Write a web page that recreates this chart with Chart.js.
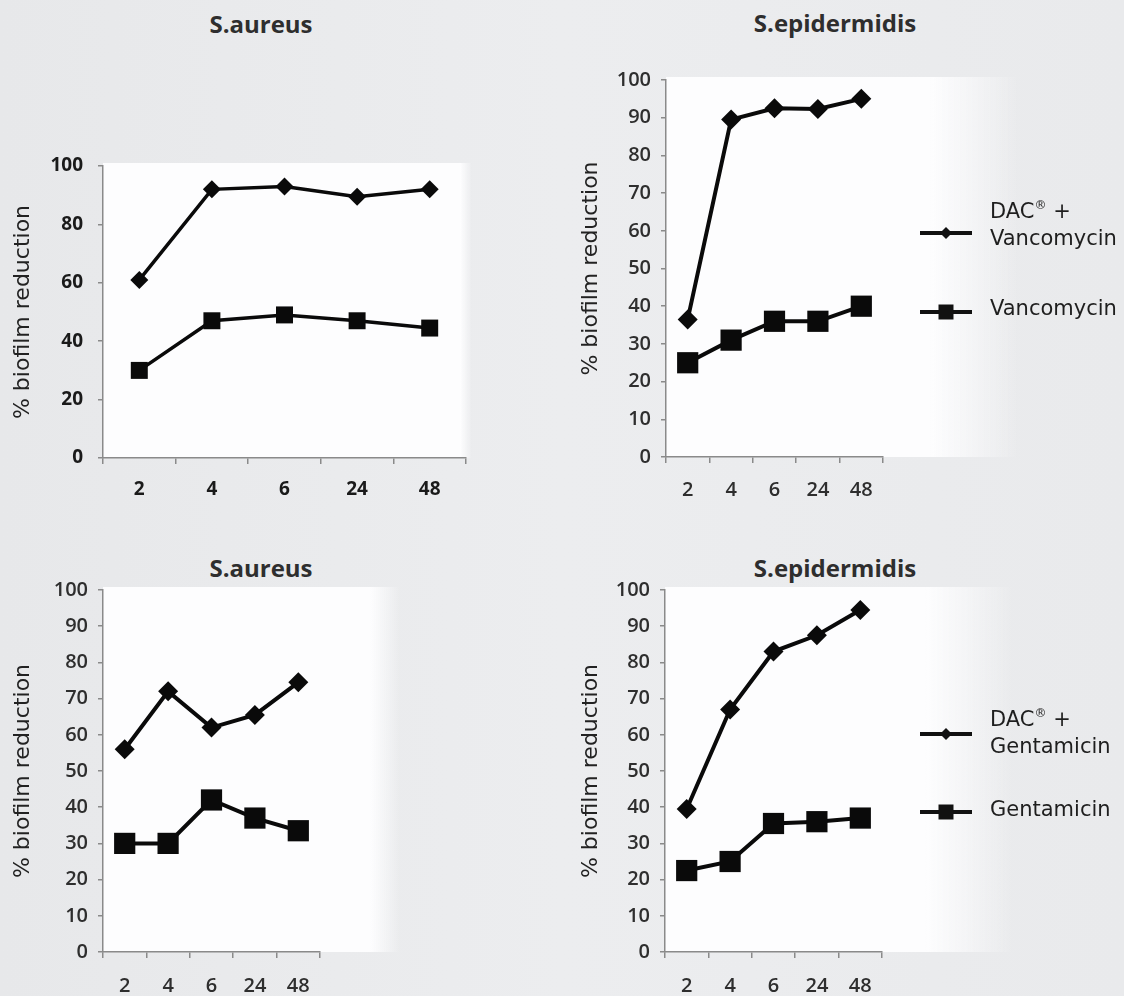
<!DOCTYPE html>
<html>
<head>
<meta charset="utf-8">
<script src="https://cdn.jsdelivr.net/npm/chart.js@4.4.1/dist/chart.umd.min.js"></script>
<style>
  html,body{margin:0;padding:0;}
  body{width:1124px;height:996px;position:relative;overflow:hidden;
       background:linear-gradient(90deg,#e7e8ea 0%,#ecedef 50%,#e9eaec 100%);}
  canvas{position:absolute;}
  .ttl{position:absolute;transform:translate(-50%,-50%);font-family:"Open Sans",sans-serif;
       font-weight:700;font-size:24px;color:#2e2e2e;white-space:nowrap;}
</style>
</head>
<body>
<div class="ttl" style="left:261px;top:23px">S.aureus</div>
<div class="ttl" style="left:835px;top:22px">S.epidermidis</div>
<div class="ttl" style="left:261px;top:567px">S.aureus</div>
<div class="ttl" style="left:835px;top:567px">S.epidermidis</div>

<canvas id="c1" width="560" height="500" style="left:0;top:0"></canvas>
<canvas id="c2" width="564" height="500" style="left:560px;top:0"></canvas>
<canvas id="c3" width="560" height="496" style="left:0;top:500px"></canvas>
<canvas id="c4" width="564" height="496" style="left:560px;top:500px"></canvas>

<script>
// ---- data ----
const categories = ['2', '4', '6', '24', '48'];
const yAxisTitle = '% biofilm reduction';

const saVancDac = [61, 92, 93, 89.5, 92];
const saVanc    = [30, 47, 49, 47, 44.5];
const seVancDac = [36.5, 89.5, 92.5, 92.3, 95];
const seVanc    = [25, 31, 36, 36, 40];

const saGentDac = [56, 72, 62, 65.5, 74.5];
const saGent    = [30, 30, 42, 37, 33.5];
const seGentDac = [39.5, 67, 83, 87.5, 94.5];
const seGent    = [22.5, 25, 35.5, 36, 37];

const vancLabels = [['DAC® +', 'Vancomycin'], ['Vancomycin']];
const gentLabels = [['DAC® +', 'Gentamicin'], ['Gentamicin']];

// ---- plugins ----
const whiteBg = {
  id: 'whiteBg',
  beforeDraw(chart, args, opts) {
    const {ctx, chartArea: a} = chart;
    const end = opts.right;
    const fade = opts.fade || 40;
    ctx.save();
    const g = ctx.createLinearGradient(end - fade, 0, end, 0);
    g.addColorStop(0, 'rgba(253,253,254,1)');
    g.addColorStop(1, 'rgba(253,253,254,0)');
    ctx.fillStyle = '#fdfdfe';
    ctx.fillRect(a.left, opts.top, end - fade - a.left, a.bottom - opts.top);
    ctx.fillStyle = g;
    ctx.fillRect(end - fade, opts.top, fade, a.bottom - opts.top);
    ctx.restore();
  }
};

const sideLegend = {
  id: 'sideLegend',
  afterDraw(chart, args, opts) {
    if (!opts || !opts.items) return;
    const {ctx} = chart;
    ctx.save();
    opts.items.forEach((it, i) => {
      const ds = chart.data.datasets[i];
      ctx.strokeStyle = '#111';
      ctx.lineWidth = 4;
      ctx.beginPath();
      ctx.moveTo(opts.x1, it.lineY);
      ctx.lineTo(opts.x2, it.lineY);
      ctx.stroke();
      const cx = (opts.x1 + opts.x2) / 2;
      ctx.fillStyle = '#111';
      ctx.beginPath();
      if (ds.pointStyle === 'rectRot') {
        const r = 6;
        ctx.moveTo(cx, it.lineY - r); ctx.lineTo(cx + r, it.lineY);
        ctx.lineTo(cx, it.lineY + r); ctx.lineTo(cx - r, it.lineY);
        ctx.closePath();
      } else {
        const s = 7.5;
        ctx.rect(cx - s, it.lineY - s, 2 * s, 2 * s);
      }
      ctx.fill();
      ctx.fillStyle = '#1e1e1e';
      ctx.textBaseline = 'middle';
      it.lines.forEach((ln, k) => {
        const y = it.textY[k];
        let x = opts.tx;
        const parts = ln.split('®');
        ctx.font = '21px "DejaVu Sans"';
        ctx.fillText(parts[0], x, y);
        x += ctx.measureText(parts[0]).width;
        if (parts.length > 1) {
          ctx.font = '12px "DejaVu Sans"';
          ctx.fillText('®', x, y - 7);
          x += ctx.measureText('®').width;
          ctx.font = '21px "DejaVu Sans"';
          ctx.fillText(parts[1], x, y);
        }
      });
    });
    ctx.restore();
  }
};

function makeChart(id, cfg) {
  const tickFont = cfg.boldTicks
    ? {family: '"Open Sans"', size: 19, weight: '700'}
    : {family: '"Open Sans"', size: 20, weight: '600'};
  const tickColor = cfg.boldTicks ? '#1a1a1a' : '#2e2e2e';
  return new Chart(document.getElementById(id), {
    type: 'line',
    data: {
      labels: categories,
      datasets: [
        {
          label: cfg.labels[0].join(' '),
          data: cfg.dac,
          borderColor: '#0a0a0a',
          backgroundColor: '#0a0a0a',
          borderWidth: cfg.lw,
          pointStyle: 'rectRot',
          pointRadius: cfg.dr,
          pointBorderWidth: 0,
          tension: 0
        },
        {
          label: cfg.labels[1].join(' '),
          data: cfg.plain,
          borderColor: '#0a0a0a',
          backgroundColor: '#0a0a0a',
          borderWidth: cfg.lw,
          pointStyle: 'rect',
          pointRadius: cfg.sr,
          pointBorderWidth: 0,
          tension: 0
        }
      ]
    },
    options: {
      responsive: false,
      animation: false,
      events: [],
      layout: {padding: {left: 0, top: cfg.top, right: cfg.right, bottom: 0}},
      plugins: {
        legend: {display: false},
        title: {display: false},
        tooltip: {enabled: false},
        whiteBg: {right: cfg.whiteRight, top: cfg.top - 3, fade: cfg.fade},
        sideLegend: cfg.legend || {}
      },
      scales: {
        x: {
          type: 'category',
          offset: true,
          border: {display: true, color: '#8a8a8a', width: 1.5},
          grid: {display: true, drawOnChartArea: false, drawTicks: true, tickLength: 6,
                 color: '#8a8a8a', lineWidth: 1.5, offset: true},
          ticks: {font: tickFont, color: tickColor, padding: cfg.xPad, maxRotation: 0, autoSkip: false},
          afterFit(s) { s.height = cfg.xH; }
        },
        y: {
          min: 0, max: 100,
          border: {display: true, color: '#8a8a8a', width: 1.5},
          grid: {display: true, drawOnChartArea: false, drawTicks: true, tickLength: 5,
                 color: '#8a8a8a', lineWidth: 1.5},
          ticks: {stepSize: cfg.step, font: tickFont, color: tickColor, padding: cfg.yPad},
          title: {display: true, text: yAxisTitle, color: '#222',
                  font: {family: '"DejaVu Sans"', size: 22, weight: '400'},
                  padding: {top: cfg.titlePad, bottom: 0}},
          afterFit(s) { s.width = cfg.yW; }
        }
      }
    },
    plugins: [whiteBg, sideLegend]
  });
}

// top-left: S.aureus (vancomycin)
makeChart('c1', {
  dac: saVancDac, plain: saVanc, labels: vancLabels, boldTicks: true,
  top: 166, right: 94, yW: 103, xH: 42, step: 20, xPad: 14, yPad: 15,
  titlePad: 10, lw: 3.5, dr: 9, sr: 12, whiteRight: 472, fade: 12
});

// top-right: S.epidermidis (vancomycin)
makeChart('c2', {
  dac: seVancDac, plain: seVanc, labels: vancLabels, boldTicks: false,
  top: 80, right: 241, yW: 106, xH: 43, step: 10, xPad: 15, yPad: 10,
  titlePad: 18, lw: 4, dr: 10, sr: 15, whiteRight: 460, fade: 90,
  legend: {x1: 360, x2: 412, tx: 430,
    items: [{lineY: 233, lines: vancLabels[0], textY: [213, 240]},
            {lineY: 312, lines: vancLabels[1], textY: [310]}]}
});

// bottom-left: S.aureus (gentamicin)
makeChart('c3', {
  dac: saGentDac, plain: saGent, labels: gentLabels, boldTicks: false,
  top: 90, right: 240, yW: 103, xH: 44, step: 10, xPad: 16, yPad: 10,
  titlePad: 10, lw: 4, dr: 10, sr: 15, whiteRight: 400, fade: 30
});

// bottom-right: S.epidermidis (gentamicin)
makeChart('c4', {
  dac: seGentDac, plain: seGent, labels: gentLabels, boldTicks: false,
  top: 90, right: 242, yW: 105, xH: 44, step: 10, xPad: 16, yPad: 10,
  titlePad: 18, lw: 4, dr: 10, sr: 15, whiteRight: 455, fade: 90,
  legend: {x1: 360, x2: 412, tx: 430,
    items: [{lineY: 234, lines: gentLabels[0], textY: [221, 248]},
            {lineY: 312, lines: gentLabels[1], textY: [311]}]}
});
</script>
</body>
</html>
